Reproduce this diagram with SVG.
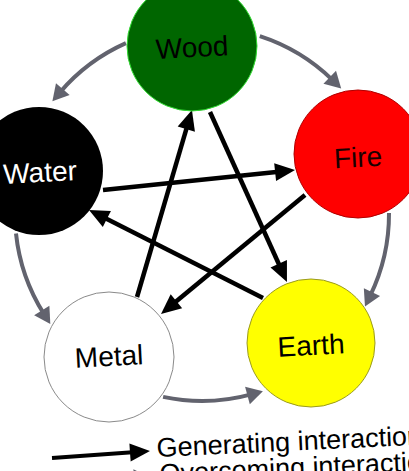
<svg xmlns="http://www.w3.org/2000/svg" width="409" height="471" viewBox="0 0 409 471">
<style>
.lbl{font-family:"Liberation Sans",Arial,sans-serif;font-size:28px;text-anchor:middle}
.leg{font-family:"Liberation Sans",Arial,sans-serif;font-size:27px;fill:#000}
.gen{fill:none;stroke:#62636e;stroke-width:4}
.ovc{fill:none;stroke:#000;stroke-width:4.5}
</style>
<defs>
<marker id="ag" markerUnits="userSpaceOnUse" markerWidth="16" markerHeight="18" refX="4" refY="9" orient="auto" overflow="visible">
<path d="M0,0 L16,9 L0,18 z" fill="#62636e"/>
</marker>
<marker id="ab" markerUnits="userSpaceOnUse" markerWidth="20" markerHeight="18" refX="6" refY="9" orient="auto" overflow="visible">
<path d="M0,0 L20,9 L0,18 z" fill="#000"/>
</marker>
</defs>
<rect width="409" height="471" fill="#fff"/>
<g id="connectors">
<path class="gen" d="M259.8,36.2 A187,187 0 0 1 332.6,80.1" marker-end="url(#ag)"/>
<path class="gen" d="M389,213 A187,187 0 0 1 370.2,295.7" marker-end="url(#ag)"/>
<path class="gen" d="M16,233.5 A187,187 0 0 0 43.9,313.9" marker-end="url(#ag)"/>
<path class="gen" d="M163.1,396.9 A187,187 0 0 0 251.3,394.4" marker-end="url(#ag)"/>
<path class="gen" d="M125.9,43.2 A187,187 0 0 0 60.2,92.1" marker-end="url(#ag)"/>
<path class="ovc" d="M103,190 L281.1,171.5" marker-end="url(#ab)"/>
<path class="ovc" d="M137,297 L188,123.4" marker-end="url(#ab)"/>
<path class="ovc" d="M210,112 L281.2,269.2" marker-end="url(#ab)"/>
<path class="ovc" d="M305,195 L171.8,305.1" marker-end="url(#ab)"/>
<path class="ovc" d="M263,298 L101.5,216.3" marker-end="url(#ab)"/>
</g>
<g id="wood">
<circle cx="192" cy="46" r="65" fill="#006600" stroke="#33dd33" stroke-width="1"/>
<text class="lbl" x="192" y="57" fill="#000" transform="rotate(-3 192 47)">Wood</text>
</g>
<g id="fire">
<circle cx="358" cy="154" r="64" fill="#ff0000" stroke="#b00000" stroke-width="1"/>
<text class="lbl" x="358" y="167" fill="#1a0000" transform="rotate(-3 358 157)">Fire</text>
</g>
<g id="water">
<circle cx="39" cy="171" r="64" fill="#000"/>
<text class="lbl" x="40" y="182" fill="#fff" transform="rotate(-3 40 172)">Water</text>
</g>
<g id="metal">
<circle cx="109" cy="357" r="65" fill="#fff" stroke="#8a8a8a" stroke-width="1"/>
<text class="lbl" x="109" y="366" fill="#000" transform="rotate(-3 109 356)">Metal</text>
</g>
<g id="earth">
<circle cx="311" cy="343" r="64" fill="#ffff00" stroke="#9a9a20" stroke-width="1"/>
<text class="lbl" x="311" y="355" fill="#000" transform="rotate(-3 311 345)">Earth</text>
</g>
<g id="legend">
<path class="ovc" style="stroke-width:4" d="M52,458 L136,452" marker-end="url(#ab)"/>
<text class="leg" x="157" y="457" transform="rotate(-2.7 157 457)">Generating interaction</text>
<path class="gen" d="M52,484 L138,478" marker-end="url(#ag)"/>
<text class="leg" x="160" y="483" transform="rotate(-2.7 160 483)">Overcoming interaction</text>
</g>
</svg>
